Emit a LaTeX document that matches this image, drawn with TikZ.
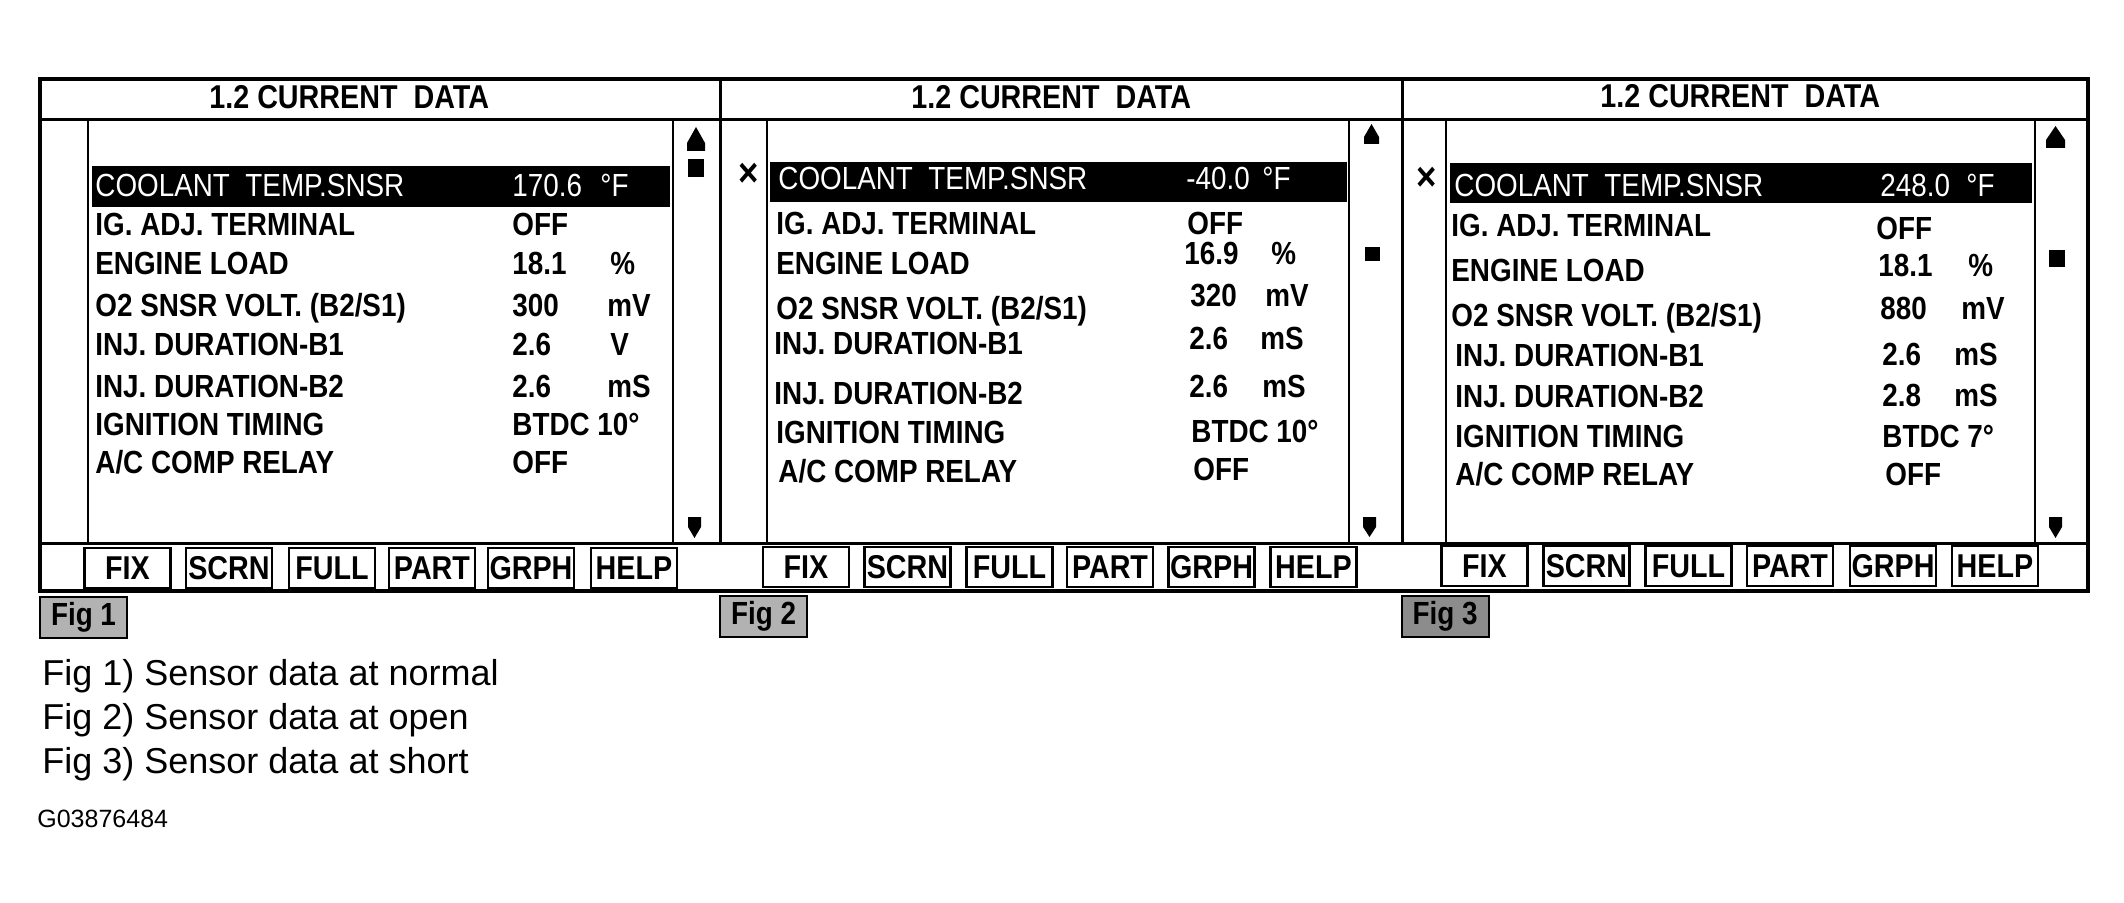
\documentclass[tikz,border=0pt]{standalone}
\usepackage{fontspec}
\setmainfont{Liberation Sans}
\newfontfamily\lcdfont[FakeStretch=0.87]{Liberation Sans}
\usepackage{tikz}
\usetikzlibrary{positioning}
\def\lcd#1{\fontsize{#1}{#1}\selectfont\lcdfont\bfseries}
\def\degF{\textdegree F}
\tikzset{
  item/.style={anchor=base west, inner sep=0pt, font=\lcd{16pt}},
  hilite/.style={anchor=base west, inner sep=0pt, text=white, font=\fontsize{16pt}{16pt}\selectfont\lcdfont},
  title/.style={anchor=base west, inner sep=0pt, font=\lcd{16.5pt}},
  btn/.style={draw, line width=1.25pt, minimum width=43pt, minimum height=20pt, inner sep=0pt, font=\lcd{16.5pt}},
  figtag/.style={draw, line width=1pt, fill=black!30, minimum width=43.5pt, minimum height=20.5pt, inner sep=0pt, font=\lcd{16pt}},
  xsign/.style={inner sep=0pt, font=\lcd{20pt}},
  note/.style={anchor=base west, inner sep=0pt, font=\fontsize{18pt}{18pt}\selectfont}
}
\begin{document}
\begin{tikzpicture}[x=0.5pt, y=-0.5pt]
\useasboundingbox (0,0) rectangle (2124,903);
% screen frames
\draw[line width=2pt] (40,79) rectangle (2088,591);
\draw[line width=1.5pt] (40,120) -- (2088,120);
\draw[line width=1.5pt] (40,543) -- (2088,543);
\draw[line width=1.5pt] (720,79) -- (720,543);
\draw[line width=1.5pt] (1402,79) -- (1402,543);
\draw[line width=1pt] (88,120) -- (88,543);
\draw[line width=1pt] (673,120) -- (673,543);
\draw[line width=1pt] (767,120) -- (767,543);
\draw[line width=1pt] (1349,120) -- (1349,543);
\draw[line width=1pt] (1446,120) -- (1446,543);
\draw[line width=1pt] (2035,120) -- (2035,543);
\node[title] (t1) at (209,109) {1.2 CURRENT\ \ DATA};
\node[title] (t2) at (911,109) {1.2 CURRENT\ \ DATA};
\node[title] (t3) at (1600,108) {1.2 CURRENT\ \ DATA};

% Fig 1
\fill (92,166) rectangle (670,207);
\node[hilite] (p1l1) at (95,197) {COOLANT\ \ TEMP.SNSR};
\node[hilite] (p1v1) at (512,197) {170.6};
\node[hilite] (p1u1) at (600,197) {\degF};
\node[item] (p1l2) at (95,236) {IG. ADJ. TERMINAL};
\node[item] (p1v2) at (512,236) {OFF};
\node[item] (p1l3) at (95,275) {ENGINE LOAD};
\node[item] (p1v3) at (512,275) {18.1};
\node[item] (p1u3) at (610,275) {\%};
\node[item] (p1l4) at (95,317) {O2 SNSR VOLT. (B2/S1)};
\node[item] (p1v4) at (512,317) {300};
\node[item] (p1u4) at (607,317) {mV};
\node[item] (p1l5) at (95,356) {INJ. DURATION-B1};
\node[item] (p1v5) at (512,356) {2.6};
\node[item] (p1u5) at (610,356) {V};
\node[item] (p1l6) at (95,397) {INJ. DURATION-B2};
\node[item] (p1v6) at (512,397) {2.6};
\node[item] (p1u6) at (607,397) {mS};
\node[item] (p1l7) at (95,435) {IGNITION TIMING};
\node[item] (p1v7) at (512,435) {BTDC 10\textdegree};
\node[item] (p1l8) at (95,473) {A/C COMP RELAY};
\node[item] (p1v8) at (512,473) {OFF};
\fill (696,127) -- (705,143) -- (705,151) -- (687,151) -- (687,143) -- cycle;
\fill (688,159) rectangle (704,177);
\fill (688,517) -- (701,517) -- (701,527) -- (694.5,538) -- (688,527) -- cycle;
\node[btn] (p1b1) at (127.5,568) {FIX};
\node[btn] (p1b2) at (229,568) {SCRN};
\node[btn] (p1b3) at (332,568) {FULL};
\node[btn] (p1b4) at (432,568) {PART};
\node[btn] (p1b5) at (531,568) {GRPH};
\node[btn] (p1b6) at (634,568) {HELP};
\node[figtag] (f1) at (83.5,617.5) {Fig 1};

% Fig 2
\node[xsign] (x2) at (749,175) {×};
\fill (770,162) rectangle (1347,202);
\node[hilite] (p2l1) at (778,190) {COOLANT\ \ TEMP.SNSR};
\node[hilite] (p2v1) at (1186,190) {-40.0};
\node[hilite] (p2u1) at (1262,190) {\degF};
\node[item] (p2l2) at (776,235) {IG. ADJ. TERMINAL};
\node[item] (p2v2) at (1187,235) {OFF};
\node[item] (p2l3) at (776,275) {ENGINE LOAD};
\node[item] (p2v3) at (1184,265) {16.9};
\node[item] (p2u3) at (1271,265) {\%};
\node[item] (p2l4) at (776,320) {O2 SNSR VOLT. (B2/S1)};
\node[item] (p2v4) at (1190,307) {320};
\node[item] (p2u4) at (1265,307) {mV};
\node[item] (p2l5) at (774,355) {INJ. DURATION-B1};
\node[item] (p2v5) at (1189,350) {2.6};
\node[item] (p2u5) at (1260,350) {mS};
\node[item] (p2l6) at (774,405) {INJ. DURATION-B2};
\node[item] (p2v6) at (1189,398) {2.6};
\node[item] (p2u6) at (1262,398) {mS};
\node[item] (p2l7) at (776,443) {IGNITION TIMING};
\node[item] (p2v7) at (1191,442) {BTDC 10\textdegree};
\node[item] (p2l8) at (778,482) {A/C COMP RELAY};
\node[item] (p2v8) at (1193,480) {OFF};
\fill (1371.5,124) -- (1379,137) -- (1379,144) -- (1364,144) -- (1364,137) -- cycle;
\fill (1365,247) rectangle (1380,261);
\fill (1363,517) -- (1376,517) -- (1376,527) -- (1369.5,537) -- (1363,527) -- cycle;
\node[btn] (p2b1) at (806,567) {FIX};
\node[btn] (p2b2) at (907.5,567) {SCRN};
\node[btn] (p2b3) at (1009.5,567) {FULL};
\node[btn] (p2b4) at (1110,567) {PART};
\node[btn] (p2b5) at (1211.5,567) {GRPH};
\node[btn] (p2b6) at (1313.5,567) {HELP};
\node[figtag] (f2) at (763.5,616.5) {Fig 2};

% Fig 3
\node[xsign] (x3) at (1427,179) {×};
\fill (1450,163) rectangle (2032,203);
\node[hilite] (p3l1) at (1454,197) {COOLANT\ \ TEMP.SNSR};
\node[hilite] (p3v1) at (1880,197) {248.0};
\node[hilite] (p3u1) at (1966,197) {\degF};
\node[item] (p3l2) at (1451,237) {IG. ADJ. TERMINAL};
\node[item] (p3v2) at (1876,240) {OFF};
\node[item] (p3l3) at (1451,282) {ENGINE LOAD};
\node[item] (p3v3) at (1878,277) {18.1};
\node[item] (p3u3) at (1968,277) {\%};
\node[item] (p3l4) at (1451,327) {O2 SNSR VOLT. (B2/S1)};
\node[item] (p3v4) at (1880,320) {880};
\node[item] (p3u4) at (1961,320) {mV};
\node[item] (p3l5) at (1455,367) {INJ. DURATION-B1};
\node[item] (p3v5) at (1882,365) {2.6};
\node[item] (p3u5) at (1954,365) {mS};
\node[item] (p3l6) at (1455,408) {INJ. DURATION-B2};
\node[item] (p3v6) at (1882,407) {2.8};
\node[item] (p3u6) at (1954,407) {mS};
\node[item] (p3l7) at (1455,447) {IGNITION TIMING};
\node[item] (p3v7) at (1882,447) {BTDC 7\textdegree};
\node[item] (p3l8) at (1455,485) {A/C COMP RELAY};
\node[item] (p3v8) at (1885,485) {OFF};
\fill (2055.5,126) -- (2065,140) -- (2065,148) -- (2046,148) -- (2046,140) -- cycle;
\fill (2049,250) rectangle (2065,267);
\fill (2049,517) -- (2062,517) -- (2062,527) -- (2055.5,538) -- (2049,527) -- cycle;
\node[btn] (p3b1) at (1484.5,566) {FIX};
\node[btn] (p3b2) at (1586.5,566) {SCRN};
\node[btn] (p3b3) at (1688.5,566) {FULL};
\node[btn] (p3b4) at (1790,566) {PART};
\node[btn] (p3b5) at (1893,566) {GRPH};
\node[btn] (p3b6) at (1995,566) {HELP};
\node[figtag, fill=black!45] (f3) at (1445,616) {Fig 3};

% legend
\node[note] (n1) at (42,685) {Fig 1) Sensor data at normal};
\node[note] (n2) at (42,729) {Fig 2) Sensor data at open};
\node[note] (n3) at (42,773) {Fig 3) Sensor data at short};
\node[anchor=base west, inner sep=0pt, font=\fontsize{12.5pt}{12.5pt}\selectfont] (code) at (37,827) {G03876484};
\end{tikzpicture}
\end{document}
